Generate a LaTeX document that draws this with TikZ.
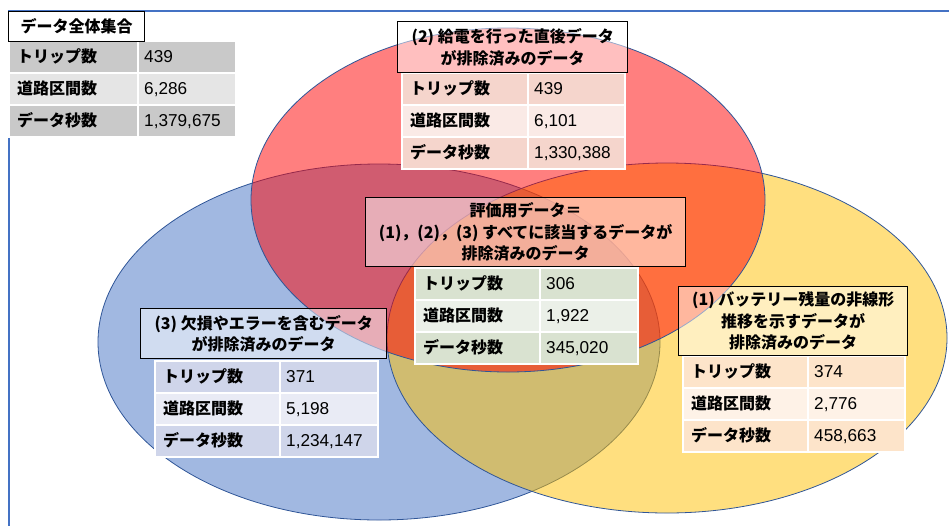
\documentclass[tikz,border=0pt]{standalone}
\usepackage{fontspec}
\newfontfamily\jp{Noto Sans CJK JP}
\newfontfamily\numf{Liberation Sans}
\definecolor{vblue}{HTML}{4472C4}
\definecolor{vyellow}{HTML}{FFC000}
\definecolor{vred}{HTML}{FF0000}
\definecolor{vline}{HTML}{2F5597}
\definecolor{frameblue}{HTML}{4472C4}
\def\trh{32}
\tikzset{
  venn/.style={fill opacity=0.5, draw=vline, line width=0.8pt},
  frameline/.style={draw=frameblue, line width=1.1pt},
  cell/.style={draw=white, line width=1.5pt, inner sep=0pt, minimum height=\trh pt, anchor=north west},
  lbl/.style={font=\jp\bfseries\fontsize{16}{18}\selectfont, anchor=west, inner sep=0pt, text height=13pt, text depth=1.4pt},
  val/.style={font=\numf\fontsize{17.2}{18}\selectfont, anchor=west, inner sep=0pt, text height=13pt, text depth=1.4pt},
  capbox/.style={draw=black, line width=1.4pt, fill=white, fill opacity=0.5, text opacity=1, align=center,
    font=\jp\bfseries\fontsize{16}{21.5}\selectfont, inner sep=0pt, anchor=north west},
}
\newcommand{\datatable}[8]{%
  \node[cell, fill=\tdark,  minimum width={#4-#2}] (#1-l1) at (#2,#3) {};
  \node[cell, fill=\tdark,  minimum width={#5-#4}] (#1-v1) at (#4,#3) {};
  \node[cell, fill=\tlight, minimum width={#4-#2}] (#1-l2) at (#2,{#3+\trh}) {};
  \node[cell, fill=\tlight, minimum width={#5-#4}] (#1-v2) at (#4,{#3+\trh}) {};
  \node[cell, fill=\tdark,  minimum width={#4-#2}] (#1-l3) at (#2,{#3+2*\trh}) {};
  \node[cell, fill=\tdark,  minimum width={#5-#4}] (#1-v3) at (#4,{#3+2*\trh}) {};
  \node[lbl] (#1-t1) at ([xshift=9pt]#1-l1.west) {トリップ数};
  \node[lbl] (#1-t2) at ([xshift=9pt]#1-l2.west) {道路区間数};
  \node[lbl] (#1-t3) at ([xshift=9pt]#1-l3.west) {データ秒数};
  \node[val] (#1-n1) at ([xshift=7pt]#1-v1.west) {#6};
  \node[val] (#1-n2) at ([xshift=7pt]#1-v2.west) {#7};
  \node[val] (#1-n3) at ([xshift=7pt]#1-v3.west) {#8};
}
\begin{document}
\begin{tikzpicture}[x=1pt,y=-1pt]
\useasboundingbox (0,0) rectangle (949,525);
% frame
\draw[frameline] (960,11) -- (9,11) -- (9,540);
% Venn ellipses
\draw[venn, fill=vblue]   (379,342) ellipse [x radius=281pt, y radius=178pt];
\draw[venn, fill=vyellow] (667,338) ellipse [x radius=280pt, y radius=175pt];
\draw[venn, fill=vred]    (508,200) ellipse [x radius=257pt, y radius=172pt];
% overall table
\def\tdark{black!21}\def\tlight{black!10}
\datatable{all}{8}{40}{137}{235}{439}{6,286}{1,379,675}
\node[capbox, fill opacity=1, minimum width=136pt, minimum height=30pt] (allcap) at (8,11) {データ全体集合};
% (2)
\definecolor{rdark}{HTML}{F5D5CC}\definecolor{rlight}{HTML}{FAEAE6}
\def\tdark{rdark}\def\tlight{rlight}
\datatable{two}{401}{72}{527}{624}{439}{6,101}{1,330,388}
\node[capbox, minimum width=230pt, minimum height=51pt] (twocap) at (397,21) {(2) 給電を行った直後データ\\が排除済みのデータ};
% center
\definecolor{gdark}{HTML}{D9E2D0}\definecolor{glight}{HTML}{EBF0E8}
\def\tdark{gdark}\def\tlight{glight}
\datatable{eval}{414}{267}{539}{637}{306}{1,922}{345,020}
\node[capbox, minimum width=320pt, minimum height=69pt] (evalcap) at (365,197) {評価用データ＝\\(1)，(2)，(3) すべてに該当するデータが\\排除済みのデータ};
% (3)
\definecolor{bdark}{HTML}{CFD5EA}\definecolor{blight}{HTML}{E9EBF5}
\def\tdark{bdark}\def\tlight{blight}
\datatable{three}{154}{360}{279}{377}{371}{5,198}{1,234,147}
\node[capbox, minimum width=246pt, minimum height=50pt] (threecap) at (140,308) {(3) 欠損やエラーを含むデータ\\が排除済みのデータ};
% (1)
\definecolor{ydark}{HTML}{FDE4CA}\definecolor{ylight}{HTML}{FEF2E7}
\def\tdark{ydark}\def\tlight{ylight}
\datatable{one}{682}{355}{807}{904}{374}{2,776}{458,663}
\node[capbox, minimum width=229pt, minimum height=69pt] (onecap) at (678,286) {(1) バッテリー残量の非線形\\推移を示すデータが\\排除済みのデータ};
\end{tikzpicture}
\end{document}
